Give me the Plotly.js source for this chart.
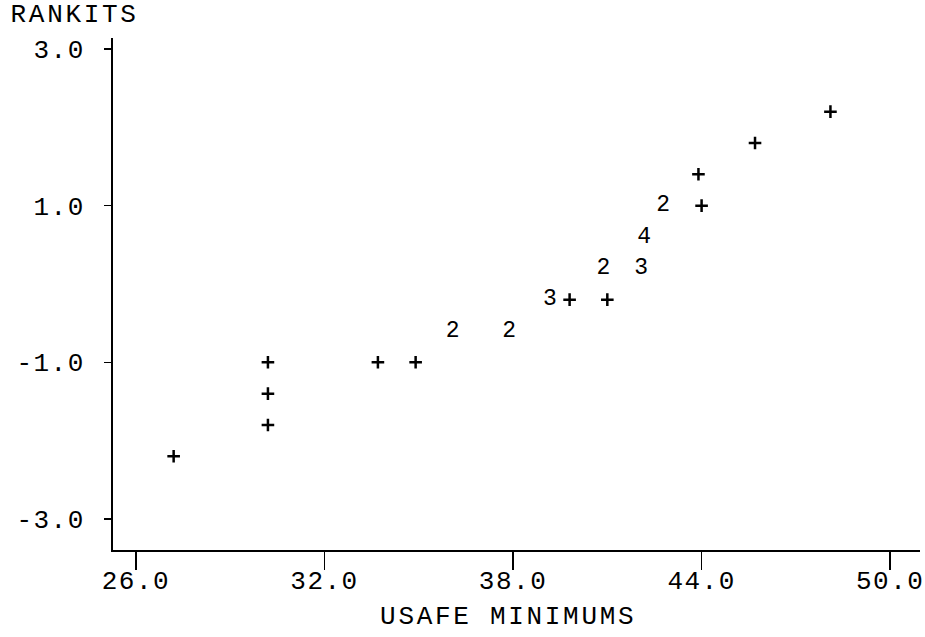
<!DOCTYPE html>
<html><head><meta charset="utf-8">
<script src="https://cdn.plot.ly/plotly-3.0.1.min.js"></script>
<style>
html,body{margin:0;padding:0;background:#fff}
#chart{width:925px;height:637px}
.main-svg text{letter-spacing:1.5px}
.main-svg .annotation text{letter-spacing:2.7px}
</style>
</head><body><div id="chart"></div>
<script>
// single observations plotted as '+'
const plusX = [27.2, 30.2, 30.2, 30.2, 33.7, 34.9, 39.8, 41.0, 44.0, 43.9, 45.7, 48.1];
const plusY = [-2.2, -1.0, -1.4, -1.8, -1.0, -1.0, -0.2, -0.2, 1.0, 1.4, 1.8, 2.2];
// coincident observations plotted as their count
const countX = [36.1, 37.9, 39.2, 40.9, 42.1, 42.2, 42.8];
const countY = [-0.6, -0.6, -0.2, 0.2, 0.2, 0.6, 1.0];
const countLabels = ['2', '2', '3', '2', '3', '4', '2'];
// axes
const xTickVals = [26, 32, 38, 44, 50];
const xTickText = ['26.0', '32.0', '38.0', '44.0', '50.0'];
const yTickVals = [3, 1, -1, -3];
const yTickText = ['3.0', '1.0', '-1.0', '-3.0'];
const xTitle = 'USAFE MINIMUMS';
const yTitle = 'RANKITS';

const FONT = 'Liberation Mono, DejaVu Sans Mono, monospace';

const traces = [
  {
    type: 'scatter', mode: 'markers', x: plusX, y: plusY,
    marker: {symbol: 'cross-thin', size: 9, color: '#000', line: {width: 2.5, color: '#000'}},
    hoverinfo: 'skip', showlegend: false
  },
  {
    type: 'scatter', mode: 'text', x: countX, y: countY, text: countLabels,
    textposition: 'middle center',
    textfont: {family: FONT, size: 23, color: '#000'},
    hoverinfo: 'skip', showlegend: false
  }
];

const axisCommon = {
  showline: true, linecolor: '#000', linewidth: 2,
  ticks: 'outside', tickcolor: '#000', tickwidth: 1.5,
  showgrid: false, zeroline: false, mirror: false,
  tickfont: {family: FONT, size: 26, color: '#000'}
};

const layout = {
  width: 925, height: 637,
  margin: {l: 113, r: 5, t: 38, b: 87},
  paper_bgcolor: '#fff', plot_bgcolor: '#fff',
  xaxis: Object.assign({}, axisCommon, {
    range: [25.27, 50.95], tickmode: 'array', tickvals: xTickVals, ticktext: xTickText,
    ticklen: 18, ticklabelstandoff: -12
  }),
  yaxis: Object.assign({}, axisCommon, {
    range: [-3.396, 3.14], tickmode: 'array', tickvals: yTickVals, ticktext: yTickText,
    ticklen: 7, ticklabelstandoff: 14
  }),
  annotations: [
    {text: yTitle, xref: 'paper', yref: 'paper', x: -0.118, y: 1.045,
     xanchor: 'left', yanchor: 'middle', showarrow: false,
     font: {family: FONT, size: 26, color: '#000'}},
    {text: xTitle, xref: 'paper', yref: 'paper', x: 0.489, y: -0.13,
     xanchor: 'center', yanchor: 'middle', showarrow: false,
     font: {family: FONT, size: 26, color: '#000'}}
  ]
};

Plotly.newPlot('chart', traces, layout, {staticPlot: true, displayModeBar: false});
</script>
</body></html>
